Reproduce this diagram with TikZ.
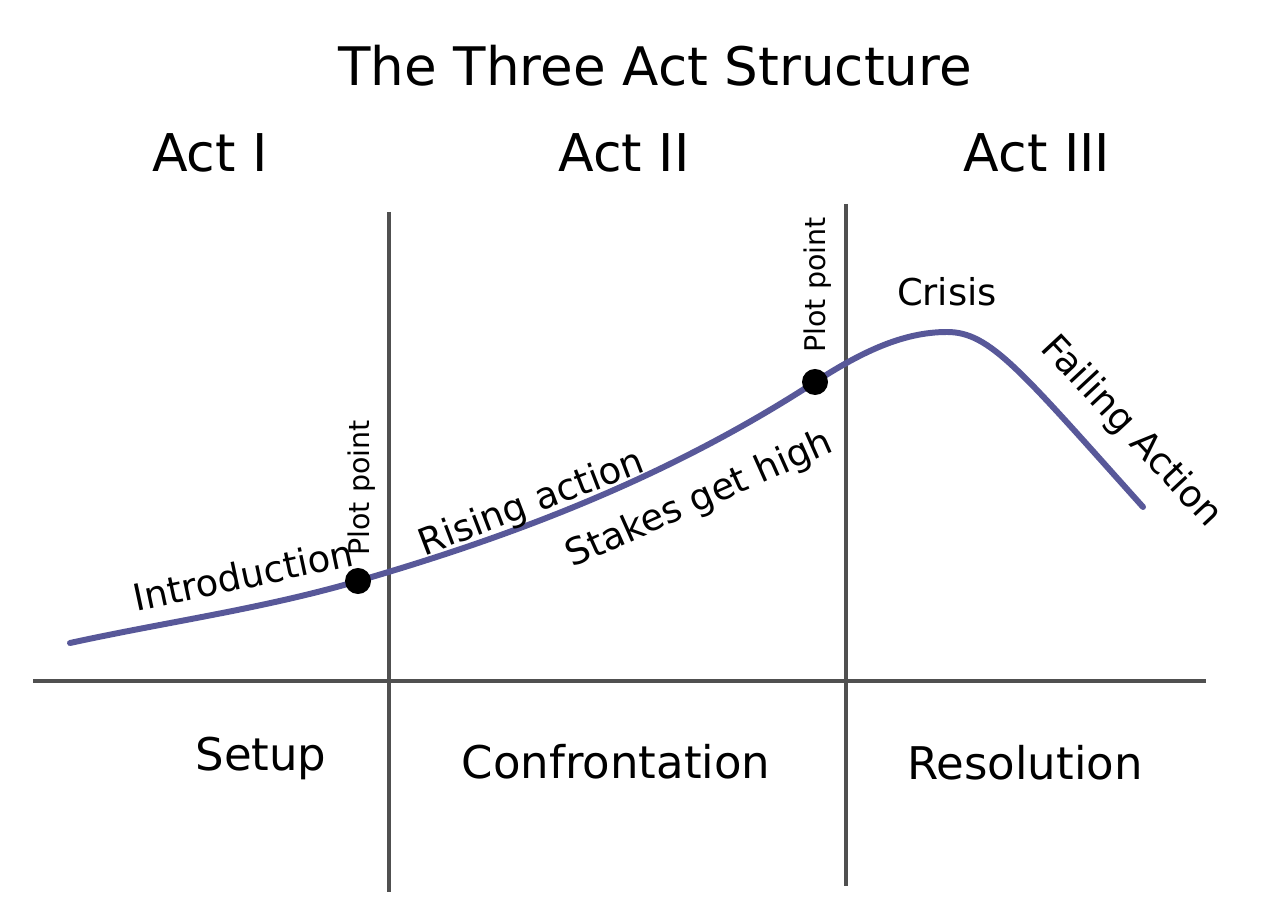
\documentclass[tikz,border=0pt]{standalone}
\usepackage{fontspec}
\setmainfont{DejaVu Sans}
\definecolor{curvecol}{RGB}{88,88,153}
\definecolor{linecol}{RGB}{80,80,80}
\begin{document}
\begin{tikzpicture}[x=0.01cm,y=-0.01cm,
  axisline/.style={draw=linecol,line width=0.9pt},
  storyline/.style={draw=curvecol,line width=1.7pt,line cap=round},
  plotdot/.style={circle,fill=black,inner sep=0pt,minimum size=0.26cm},
  titletext/.style={font=\fontsize{15.1}{18}\selectfont,inner sep=0pt},
  acttext/.style={font=\fontsize{14.8}{18}\selectfont,inner sep=0pt},
  parttext/.style={font=\fontsize{12.8}{15}\selectfont,inner sep=0pt},
  labeltext/.style={font=\fontsize{10.5}{12}\selectfont,inner sep=0pt},
  pptext/.style={font=\fontsize{8.1}{10}\selectfont,inner sep=0pt,rotate=90}]
\useasboundingbox (0,0) rectangle (1286,904);
% axes
\coordinate (axL) at (33,681);
\coordinate (axR) at (1206,681);
\coordinate (v1t) at (389,212);
\coordinate (v1b) at (389,892);
\coordinate (v2t) at (846,204);
\coordinate (v2b) at (846,886);
\draw[axisline] (axL) -- (axR);
\draw[axisline] (v1t) -- (v1b);
\draw[axisline] (v2t) -- (v2b);
% curve
\coordinate (cstart) at (70,643);
\coordinate (d1) at (358,581);
\coordinate (d2) at (815,382);
\coordinate (cpeak) at (947,332);
\coordinate (cend) at (1143,507);
\draw[storyline] (cstart) .. controls (166,622) and (262,609) .. (d1)
  .. controls (508,537.5) and (665,479.5) .. (d2)
  .. controls (860,353) and (902,332) .. (cpeak)
  .. controls (990,332) and (1020,370) .. (cend);
\node[plotdot] (pp1) at (d1) {};
\node[plotdot] (pp2) at (d2) {};
% texts
\node[titletext] (title) at (655,66) {The Three Act Structure};
\node[acttext] (act1) at (210,153) {Act I};
\node[acttext] (act2) at (624,153) {Act II};
\node[acttext] (act3) at (1037,153) {Act III};
\node[parttext,anchor=base] (setup) at (261,770) {Setup};
\node[parttext,anchor=base] (confr) at (616,778) {Confrontation};
\node[parttext,anchor=base] (resol) at (1025,779) {Resolution};
\node[labeltext,rotate=12] (intro) at (243,575) {Introduction};
\node[labeltext,rotate=21] (rising) at (532,504) {Rising action};
\node[labeltext,rotate=24] (stakes) at (700,500) {Stakes get high};
\node[labeltext] (crisis) at (947,292) {Crisis};
\node[labeltext,rotate=-47] (failing) at (1131,432) {Failing Action};
\node[pptext] (pplab1) at (362,488) {Plot point};
\node[pptext] (pplab2) at (818,285) {Plot point};
\end{tikzpicture}
\end{document}
